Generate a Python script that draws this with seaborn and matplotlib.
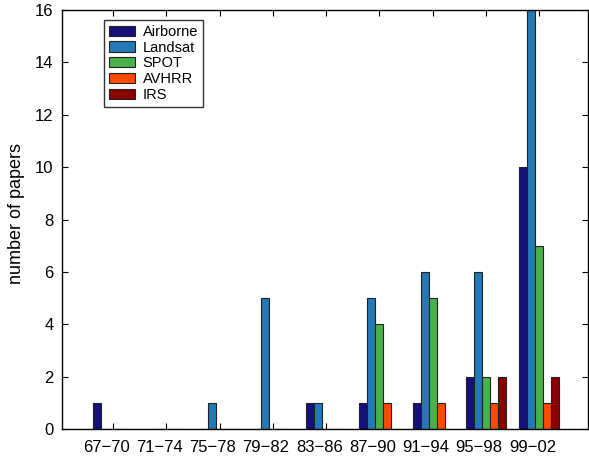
import pandas as pd
import numpy as np
import matplotlib
matplotlib.use("Agg")
import matplotlib.pyplot as plt
import matplotlib.ticker as mticker
import seaborn as sns

# ── Data ─────────────────────────────────────────────────────────────────────
periods = ["67\u221270", "71\u221274", "75\u221278", "79\u221282", "83\u221286",
           "87\u221290", "91\u221294", "95\u221298", "99\u221202"]
sensors = ["Airborne", "Landsat", "SPOT", "AVHRR", "IRS"]

airborne = [1, 0, 0, 0, 1, 1, 1, 2, 10]
landsat  = [0, 0, 1, 5, 1, 5, 6, 6, 16]
spot     = [0, 0, 0, 0, 0, 4, 5, 2, 7]
avhrr    = [0, 0, 0, 0, 0, 1, 1, 1, 1]
irs      = [0, 0, 0, 0, 0, 0, 0, 2, 2]

colors = ["#15107a", "#2379b6", "#4cb04a", "#ff4a00", "#8b0000"]

df = pd.DataFrame({
    "period": periods * 5,
    "sensor": np.repeat(sensors, len(periods)),
    "papers": airborne + landsat + spot + avhrr + irs,
})

sns.set_theme(style="white")
plt.rcParams["font.family"] = ["Liberation Sans", "DejaVu Sans"]
plt.rcParams.update({"text.color": "black", "axes.labelcolor": "black",
                     "xtick.color": "black", "ytick.color": "black"})

fig = plt.figure(figsize=(5.89, 4.57), dpi=100)
ax = fig.add_axes([0.105, 0.061, 0.893, 0.917])

sns.barplot(data=df, x="period", y="papers", hue="sensor", order=periods,
            hue_order=sensors, palette=colors, width=0.75, gap=0,
            edgecolor="#222222", linewidth=0.8, saturation=1, ax=ax)

ax.set_xlim(-0.96, 8.91)
ax.set_ylim(0, 16)
ax.set_xlabel("")
ax.set_ylabel("number of papers", fontsize=13)
ax.yaxis.set_label_coords(-0.07, 0.515)

# labels sit a little left of the group-centre ticks
ax.set_xticks(np.arange(len(periods)) - 0.13)
ax.set_xticklabels(periods, fontsize=12)
ax.xaxis.set_minor_locator(mticker.FixedLocator(np.arange(len(periods))))
ax.tick_params(axis="x", which="major", length=0, pad=8)
ax.tick_params(axis="x", which="minor", length=4, direction="in",
               top=True, bottom=True, width=0.8)
ax.yaxis.set_major_locator(mticker.MultipleLocator(2))
ax.tick_params(axis="y", which="major", length=4, direction="in",
               left=True, right=True, labelsize=12, width=0.8, pad=6)

for s in ax.spines.values():
    s.set_color("black")
    s.set_linewidth(1.0)

leg = ax.legend(loc="upper left", bbox_to_anchor=(0.08, 0.977),
                borderaxespad=0, fontsize=10.5, fancybox=False,
                frameon=True, edgecolor="black", handlelength=1.8,
                handleheight=0.7, labelspacing=0.12, handletextpad=0.5,
                borderpad=0.35)
leg.get_frame().set_linewidth(1.0)

plt.savefig("out.png", dpi=100)
